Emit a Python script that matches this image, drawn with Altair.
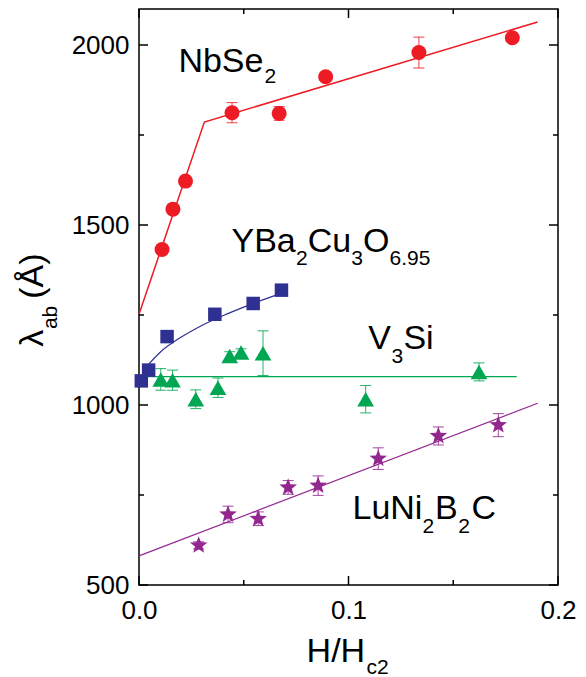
import altair as alt
import pandas as pd

FONT = "Liberation Sans"

# ---------------- data ----------------
# NbSe2 (red circles)
nb_x = [0.011, 0.0162, 0.0222, 0.0444, 0.0669, 0.0891, 0.1336, 0.1782]
nb_y = [1432, 1544, 1622, 1812, 1810, 1912, 1979, 2020]
nb_err = [8, 8, 8, 28, 19, 8, 43, 8]
nb_fit_x = [0.0, 0.0312, 0.1903]
nb_fit_y = [1252, 1786, 2064]

# YBa2Cu3O6.95 (blue squares)
yb_x = [0.0011, 0.0046, 0.0134, 0.0362, 0.0545, 0.068]
yb_y = [1067, 1097, 1190, 1252, 1282, 1319]
yb_fit_x = [0.0047, 0.01, 0.02, 0.03, 0.04, 0.05, 0.06, 0.068]
yb_fit_y = [1114, 1146, 1188, 1221, 1248, 1272, 1294, 1310]

# V3Si (green triangles)
v_x = [0.0104, 0.016, 0.0271, 0.0377, 0.0433, 0.0487, 0.0592, 0.1082, 0.1623]
v_y = [1071, 1069, 1016, 1048, 1136, 1146, 1144, 1016, 1092]
v_err = [30, 28, 26, 27, 12, 10, 62, 38, 25]
v_fit_x = [0.0, 0.1803]
v_fit_y = [1079, 1079]

# LuNi2B2C (purple stars)
lu_x = [0.0285, 0.0425, 0.0569, 0.0712, 0.0855, 0.1142, 0.1429, 0.1715]
lu_y = [610, 696, 684, 771, 776, 851, 914, 944]
lu_err = [10, 23, 19, 19, 27, 30, 25, 32]
lu_fit_x = [0.0, 0.1903]
lu_fit_y = [581, 1005]

# axis ticks
x_major = [0.0, 0.1, 0.2]
x_minor = [0.05, 0.15]
y_major = [500, 1000, 1500, 2000]
y_minor = [750, 1250, 1750]

RED, BLUE, GREEN, PURPLE = "#ED1C24", "#2E3192", "#00A651", "#92278F"

W, H = 419, 576
xs = alt.Scale(domain=[0, 0.2], nice=False, zero=False)
ys = alt.Scale(domain=[500, 2100], nice=False, zero=False)

x_axis = alt.Axis(
    values=x_major, format=".1f", title=None, domain=False, ticks=False,
    tickSize=0, grid=False, labelPadding=12, labelFlush=False,
    labelOverlap=False, labelFont=FONT, labelFontSize=26, labelColor="black")
y_axis = alt.Axis(
    values=y_major, format="d", title=None, domain=False, ticks=False,
    tickSize=0, grid=False, labelPadding=10, labelFlush=False,
    labelOverlap=False, labelFont=FONT, labelFontSize=26, labelColor="black")

STAR = ("M0,-1L0.247,-0.34L0.951,-0.309L0.4,0.13L0.588,0.809L0,0.42"
        "L-0.588,0.809L-0.4,0.13L-0.951,-0.309L-0.247,-0.34Z")
CAP = "M-1,0L1,0"


def pts(xv, yv, err=None):
    d = pd.DataFrame({"x": xv, "y": yv})
    if err is not None:
        d["lo"] = [a - b for a, b in zip(yv, err)]
        d["hi"] = [a + b for a, b in zip(yv, err)]
    return d


def X(f="x"):
    return alt.X(f"{f}:Q", scale=xs, axis=x_axis)


def Y(f="y"):
    return alt.Y(f"{f}:Q", scale=ys, axis=y_axis)


layers = []

# fit lines
for fx, fy, col, sw, interp in [
    (nb_fit_x, nb_fit_y, RED, 1.5, "linear"),
    (yb_fit_x, yb_fit_y, BLUE, 1.2, "monotone"),
    (v_fit_x, v_fit_y, GREEN, 1.2, "linear"),
    (lu_fit_x, lu_fit_y, PURPLE, 1.2, "linear"),
]:
    layers.append(alt.Chart(pts(fx, fy)).mark_line(
        color=col, strokeWidth=sw, interpolate=interp).encode(x=X(), y=Y()))

# error bars
for xv, yv, ev, col in [(nb_x, nb_y, nb_err, RED), (v_x, v_y, v_err, GREEN),
                        (lu_x, lu_y, lu_err, PURPLE)]:
    d = pts(xv, yv, ev)
    layers.append(alt.Chart(d).mark_rule(color=col, strokeWidth=1, opacity=0.85)
                  .encode(x=X(), y=Y("lo"), y2="hi"))
    for f in ["lo", "hi"]:
        layers.append(alt.Chart(d).mark_point(
            shape=CAP, size=121, filled=False, stroke=col, strokeWidth=1,
            opacity=0.85).encode(x=X(), y=Y(f)))

# markers
layers.append(alt.Chart(pts(v_x, v_y)).mark_point(
    shape="triangle-up", size=280, filled=True, color=GREEN, opacity=1)
    .encode(x=X(), y=Y()))
layers.append(alt.Chart(pts(yb_x, yb_y)).mark_point(
    shape="square", size=182, filled=True, color=BLUE, opacity=1)
    .encode(x=X(), y=Y()))
layers.append(alt.Chart(pts(nb_x, nb_y)).mark_point(
    shape="circle", size=225, filled=True, color=RED, opacity=1)
    .encode(x=X(), y=Y()))
layers.append(alt.Chart(pts(lu_x, lu_y)).mark_point(
    shape=STAR, size=340, filled=True, color=PURPLE, opacity=1, strokeWidth=0)
    .encode(x=X(), y=Y()))

# inward ticks on all four sides
def tick_df(v):
    return pd.DataFrame({"v": v})


for vals, ln in [(y_major, 9), (y_minor, 5)]:
    layers.append(alt.Chart(tick_df(vals)).mark_rule(color="black", strokeWidth=1.5)
                  .encode(y=Y("v"), x=alt.value(0), x2=alt.value(ln)))
    layers.append(alt.Chart(tick_df(vals)).mark_rule(color="black", strokeWidth=1.5)
                  .encode(y=Y("v"), x=alt.value(W - ln), x2=alt.value(W)))
for vals, ln in [(x_major, 9), (x_minor, 5)]:
    layers.append(alt.Chart(tick_df(vals)).mark_rule(color="black", strokeWidth=1.5)
                  .encode(x=X("v"), y=alt.value(H), y2=alt.value(H - ln)))
    layers.append(alt.Chart(tick_df(vals)).mark_rule(color="black", strokeWidth=1.5)
                  .encode(x=X("v"), y=alt.value(0), y2=alt.value(ln)))

# text (main pieces and subscripts), pixel positions relative to plot area
one = pd.DataFrame({"a": [0]})
MAIN, SUB = 34, 21
texts = [
    ("NbSe", 39.4, 62.7, MAIN, 0), ("2", 125.5, 74.3, SUB, 0),
    ("YBa", 92.5, 242.7, MAIN, 0), ("2", 157.0, 256.0, SUB, 0),
    ("Cu", 168.8, 242.7, MAIN, 0), ("3", 212.3, 256.0, SUB, 0),
    ("O", 224.0, 242.7, MAIN, 0), ("6.95", 250.6, 256.0, SUB, 0),
    ("V", 229.3, 340.3, MAIN, 0), ("3", 252.4, 353.7, SUB, 0),
    ("Si", 264.4, 340.3, MAIN, 0),
    ("LuNi", 213.5, 510.3, MAIN, 0), ("2", 283.5, 523.7, SUB, 0),
    ("B", 296.0, 510.3, MAIN, 0), ("2", 319.2, 523.7, SUB, 0),
    ("C", 332.6, 510.3, MAIN, 0),
    ("H/H", 167.6, 653.3, MAIN, 0), ("c2", 227.5, 665.3, SUB, 0),
    ("λ", -95.7, 337.7, MAIN, 270), ("ab", -82.3, 320.1, SUB, 270),
    ("(Å)", -95.7, 289.7, MAIN, 270),
]
for t, px, py, fs, ang in texts:
    layers.append(alt.Chart(one).mark_text(
        text=t, font=FONT, fontSize=fs, align="left", baseline="alphabetic",
        angle=ang, color="black").encode(x=alt.value(px), y=alt.value(py)))

chart = alt.layer(*layers).properties(
    width=W, height=H,
    autosize=alt.AutoSizeParams(type="none"),
    padding={"left": 139, "top": 9, "right": 28, "bottom": 92},
    background="white",
).configure_view(stroke="black", strokeWidth=1.5)

chart.save("out.html", embed_options={"renderer": "svg", "actions": False})
